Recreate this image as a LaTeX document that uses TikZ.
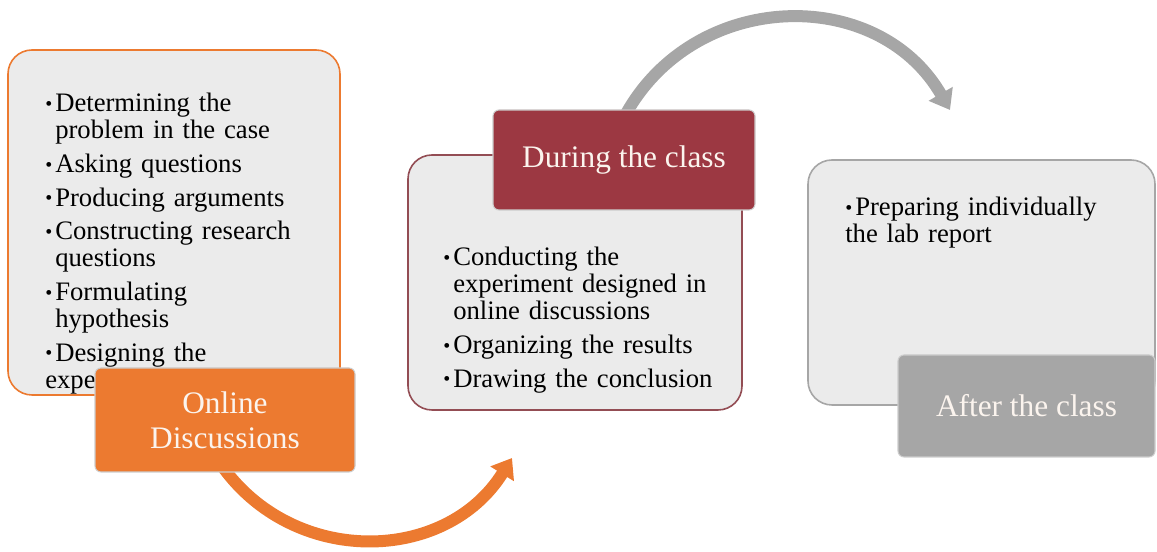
\documentclass[tikz,border=0pt]{standalone}
\usepackage{fontspec}
\setmainfont{Liberation Serif}
\usepackage{xcolor}
\usetikzlibrary{arrows.meta, positioning, backgrounds}

\definecolor{stageorange}{HTML}{EC7A30}
\definecolor{stagered}{HTML}{9C3842}
\definecolor{stagegray}{HTML}{A6A6A6}
\definecolor{panelfill}{HTML}{EBEBEB}
\definecolor{labeltext}{HTML}{FBF4EE}

% one bullet line with hanging indent
\newcommand{\bitem}{\par\hangindent=7.5pt\hangafter=1\noindent\makebox[7.5pt][l]{\strut\raisebox{1pt}{\scalebox{0.75}{\textbullet}}}}

\begin{document}
\begin{tikzpicture}[x=0.75pt, y=0.75pt,
    panel/.style={line width=1.2pt, fill=panelfill, rounded corners=18pt, inner sep=0pt},
    stagelabel/.style={draw=white!80!black, line width=0.8pt, rounded corners=4.5pt, text=labeltext,
        align=center, inner sep=0pt, font=\fontsize{23.5}{26}\selectfont},
    bullets/.style={anchor=north west, inner sep=0pt, text width=260pt, align=left,
        font=\fontsize{20}{20.25}\selectfont\setlength{\parskip}{5pt}},
    flow/.style={line width=9pt, -{Triangle[width=20pt,length=14pt]}}]

    \useasboundingbox (0,0) rectangle (1157,552);

    % Online discussions
    \node[panel, draw=stageorange, minimum width=249pt, minimum height=258.75pt] (onlinebox) at (174,329.5) {};
    \node[bullets] (onlinetext) at (45,474) {%
        \bitem Determining the\newline problem in the case
        \bitem Asking questions
        \bitem Producing arguments
        \bitem Constructing research\newline questions
        \bitem Formulating\newline hypothesis
        \bitem Designing the\newline experiment};
    \node[stagelabel, fill=stageorange, minimum width=195pt, minimum height=78pt] (online) at (225,132) {Online\\Discussions};

    % During the class
    \node[panel, draw=stagered!70!gray, minimum width=250.5pt, minimum height=191.25pt] (duringbox) at (575,269.5) {};
    \node[bullets] (duringtext) at (443,320) {%
        \bitem Conducting the\newline experiment designed in\newline online discussions
        \bitem Organizing the results
        \bitem Drawing the conclusion};
    \node[stagelabel, fill=stagered, minimum width=196.5pt, minimum height=75pt] (during) at (624,392) {During the class};

    % After the class
    \node[panel, draw=stagegray, minimum width=260.25pt, minimum height=183.75pt] (afterbox) at (981.5,269.5) {};
    \node[bullets] (aftertext) at (845,370) {%
        \bitem Preparing individually\newline the lab report};
    \node[stagelabel, fill=stagegray, minimum width=192.75pt, minimum height=76.5pt] (after) at (1026.5,146) {After the class};

    % Arrows between stages
    \coordinate (duringin) at (512,94);
    \coordinate (afterin) at (950,442);
    \begin{pgfonlayer}{background}
        \draw[flow, stageorange] ([xshift=-3pt,yshift=6pt]online.south) to[out=-55, in=238, looseness=1.1] (duringin);
        \draw[flow, stagegray] ([yshift=-6pt]during.north) to[out=62, in=120, looseness=1.14] (afterin);
    \end{pgfonlayer}
\end{tikzpicture}
\end{document}
